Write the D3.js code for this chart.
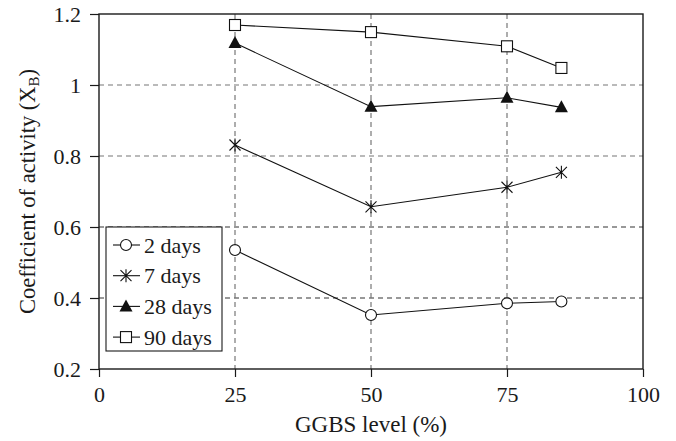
<!DOCTYPE html>
<html>
<head>
<meta charset="utf-8">
<script src="https://cdn.jsdelivr.net/npm/d3@7"></script>
<style>
  body { margin: 0; background: #fff; }
  text { font-family: "Liberation Serif", "DejaVu Serif", serif; fill: #1a1a1a; }
</style>
</head>
<body>
<svg id="chart" width="676" height="441"></svg>
<script>
    // GGBS level (%)
    const levels = [25, 50, 75, 85];
    const days2 = [0.535, 0.352, 0.385, 0.390];
    const days7 = [0.831, 0.657, 0.712, 0.754];
    const days28 = [1.118, 0.939, 0.964, 0.937];
    const days90 = [1.169, 1.149, 1.109, 1.048];
    const seriesNames = ["2 days", "7 days", "28 days", "90 days"];
    const xTicks = [0, 25, 50, 75, 100];
    const yTicks = [0.2, 0.4, 0.6, 0.8, 1, 1.2];

    const series = [
        {name: seriesNames[0], values: days2, marker: "circle"},
        {name: seriesNames[1], values: days7, marker: "star"},
        {name: seriesNames[2], values: days28, marker: "triangle"},
        {name: seriesNames[3], values: days90, marker: "square"}
    ];

    const svg = d3.select("#chart");
    const margin = {top: 14, right: 33, bottom: 72, left: 99};
    const width = 676 - margin.left - margin.right;
    const height = 441 - margin.top - margin.bottom;

    const x = d3.scaleLinear().domain([0, 100]).range([0, width]);
    const y = d3.scaleLinear().domain([0.2, 1.2]).range([height, 0]);

    const g = svg.append("g")
        .attr("transform", "translate(" + margin.left + "," + margin.top + ")");

    // grid
    g.append("g").selectAll("line")
        .data(yTicks.filter(v => v > 0.2 && v < 1.2))
        .join("line")
        .attr("x1", 0).attr("x2", width)
        .attr("y1", d => y(d)).attr("y2", d => y(d))
        .attr("stroke", d => d < 0.7 ? "#333" : "#777")
        .attr("stroke-width", 1.2)
        .attr("stroke-dasharray", "5,4");

    g.append("g").selectAll("line")
        .data(xTicks.filter(v => v > 0 && v < 100))
        .join("line")
        .attr("x1", d => x(d)).attr("x2", d => x(d))
        .attr("y1", 0).attr("y2", height)
        .attr("stroke", "#777")
        .attr("stroke-width", 1.2)
        .attr("stroke-dasharray", "5,4");

    // axes
    const xAxis = g.append("g")
        .attr("transform", "translate(0," + height + ")")
        .call(d3.axisBottom(x).tickValues(xTicks).tickSize(8).tickPadding(9).tickFormat(d3.format("d")));
    const yAxis = g.append("g")
        .call(d3.axisLeft(y).tickValues(yTicks).tickSize(9).tickPadding(9).tickFormat(d => d === 1 ? "1" : d3.format(".1f")(d)));
    [xAxis, yAxis].forEach(a => {
        a.select(".domain").remove();
        a.selectAll("line").attr("stroke", "#1a1a1a").attr("stroke-width", 1.2);
        a.selectAll("text").attr("font-size", 22).attr("fill", "#1a1a1a")
            .style("font-family", "'Liberation Serif', serif");
    });

    // frame
    g.append("rect")
        .attr("width", width).attr("height", height)
        .attr("fill", "none").attr("stroke", "#1a1a1a").attr("stroke-width", 1.4);

    function drawMarker(sel, type) {
        if (type === "circle") {
            sel.append("circle").attr("r", 5.5).attr("fill", "#fff").attr("stroke", "#111").attr("stroke-width", 1.1);
        } else if (type === "square") {
            sel.append("rect").attr("x", -5.5).attr("y", -5.5).attr("width", 11).attr("height", 11)
                .attr("fill", "#fff").attr("stroke", "#111").attr("stroke-width", 1.1);
        } else if (type === "triangle") {
            sel.append("path").attr("d", "M0,-7L6.5,5L-6.5,5Z").attr("fill", "#111");
        } else if (type === "star") {
            sel.append("path").attr("d", "M-5.5,-5.5L5.5,5.5M-5.5,5.5L5.5,-5.5M0,-6.5L0,6.5")
                .attr("stroke", "#111").attr("stroke-width", 1.1).attr("fill", "none");
        }
    }

    const line = d3.line().x((d, i) => x(levels[i])).y(d => y(d));

    series.forEach(s => {
        g.append("path")
            .datum(s.values)
            .attr("fill", "none")
            .attr("stroke", "#111")
            .attr("stroke-width", 1.1)
            .attr("d", line);
        s.values.forEach((v, i) => {
            const m = g.append("g").attr("transform", "translate(" + x(levels[i]) + "," + y(v) + ")");
            drawMarker(m, s.marker);
        });
    });

    // legend
    const lg = g.append("g").attr("transform", "translate(7,213)");
    lg.append("rect").attr("width", 116).attr("height", 124)
        .attr("fill", "#fff").attr("stroke", "#1a1a1a").attr("stroke-width", 1.1);
    series.forEach((s, i) => {
        const row = lg.append("g").attr("transform", "translate(0," + (18 + i * 30.7) + ")");
        row.append("line").attr("x1", 7).attr("x2", 34).attr("stroke", "#111").attr("stroke-width", 1.1);
        drawMarker(row.append("g").attr("transform", "translate(20,0)"), s.marker);
        row.append("text").attr("x", 38).attr("y", 7.5).attr("font-size", 22).text(s.name);
    });

    // axis titles
    svg.append("text")
        .attr("x", 371).attr("y", 432)
        .attr("text-anchor", "middle").attr("font-size", 23)
        .text("GGBS level (%)");

    const yl = svg.append("text")
        .attr("transform", "translate(35," + (margin.top + height / 2) + ") rotate(-90)")
        .attr("text-anchor", "middle").attr("font-size", 22.5);
    yl.append("tspan").text("Coefficient of activity (X");
    yl.append("tspan").attr("font-size", 15).attr("dy", 4).text("B");
    yl.append("tspan").attr("dy", -4).text(")");
</script>
</body>
</html>
